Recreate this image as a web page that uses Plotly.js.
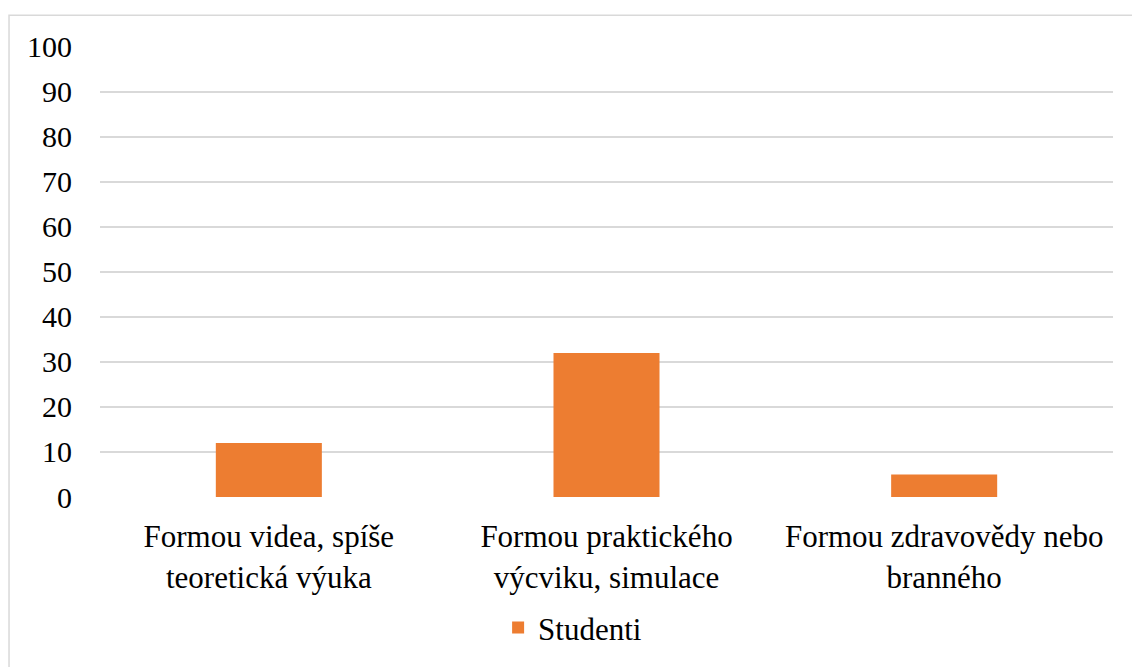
<!DOCTYPE html>
<html><head><meta charset="utf-8">
<script src="https://cdn.plot.ly/plotly-3.0.1.min.js"></script>
<style>
html,body{margin:0;padding:0;background:#fff}
#chart .modebar-container{display:none !important}
#chart text{fill:#000 !important}
</style>
</head><body>
<div id="chart" style="width:1132px;height:667px"></div>
<script>
const categories = ["Formou videa, spíše<br>teoretická výuka", "Formou praktického<br>výcviku, simulace", "Formou zdravovědy nebo<br>branného"];
const studenti = [12, 32, 5];
const seriesName = "Studenti";
const yTicks = [0,10,20,30,40,50,60,70,80,90,100];

Plotly.newPlot("chart", [{
  type: "bar", x: categories, y: studenti, name: seriesName,
  marker: {color: "#ED7D31"}, showlegend: true
}], {
  width: 1132, height: 667,
  margin: {l: 100, r: 19, t: 46, b: 166},
  bargap: 0.686,
  xaxis: {automargin: false, ticks: "outside", ticklen: 12, tickcolor: "rgba(0,0,0,0)", showgrid: false, zeroline: false, showline: false,
          tickfont: {family: "Liberation Serif", size: 31}},
  yaxis: {automargin: false, range: [0, 100.2], tickvals: yTicks, ticks: "outside", ticklen: 21, tickcolor: "rgba(0,0,0,0)",
          gridcolor: "#d9d9d9", gridwidth: 1.5, zeroline: false, showline: false,
          tickfont: {family: "Liberation Serif", size: 30}},
  showlegend: true,
  legend: {orientation: "h", x: 0.393, xanchor: "left", y: -0.29, yanchor: "middle",
           font: {family: "Liberation Serif", size: 31}},
  shapes: [{type: "rect", xref: "paper", yref: "paper", x0: -0.0898, x1: 1.05, y0: -0.5, y1: 1.0681,
            line: {color: "#d9d9d9", width: 1.5}}]
});
</script>
</body></html>
